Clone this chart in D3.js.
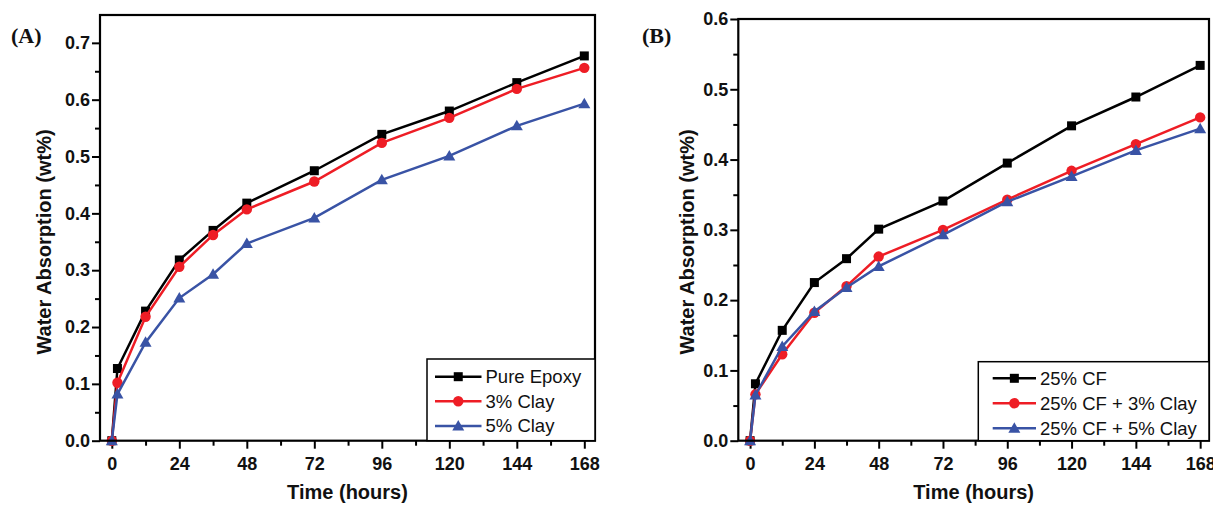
<!DOCTYPE html>
<html>
<head>
<meta charset="utf-8">
<script src="https://cdn.jsdelivr.net/npm/d3@7"></script>
<style>
  body { margin: 0; background: #fff; }
  svg { display: block; }
</style>
</head>
<body>
<div id="chart"></div>
<script>
// time points (hours)
let hours = [0, 2, 12, 24, 36, 48, 72, 96, 120, 144, 168]

// panel A
let pureEpoxy = [0, 0.127, 0.228, 0.318, 0.370, 0.418, 0.475, 0.539, 0.580, 0.630, 0.677]
let clay3 = [0, 0.102, 0.218, 0.306, 0.362, 0.407, 0.456, 0.524, 0.568, 0.619, 0.656]
let clay5 = [0, 0.082, 0.173, 0.251, 0.293, 0.347, 0.392, 0.459, 0.501, 0.554, 0.593]

// panel B
let cf25 = [0, 0.081, 0.157, 0.225, 0.259, 0.301, 0.341, 0.395, 0.448, 0.489, 0.534]
let cf25clay3 = [0, 0.066, 0.123, 0.182, 0.220, 0.262, 0.300, 0.343, 0.384, 0.422, 0.460]
let cf25clay5 = [0, 0.065, 0.134, 0.184, 0.218, 0.248, 0.293, 0.340, 0.376, 0.413, 0.444]

let xTicks = [0, 24, 48, 72, 96, 120, 144, 168]
let xMinor = [12, 36, 60, 84, 108, 132, 156]
let namesA = ['Pure Epoxy', '3% Clay', '5% Clay']
let namesB = ['25% CF', '25% CF + 3% Clay', '25% CF + 5% Clay']

let colors = ['#000000', '#ee1d25', '#3953a5']
let shapes = ['square', 'circle', 'triangle']

let svg = d3.select('#chart').append('svg')
  .attr('width', 1213)
  .attr('height', 511)

const drawMarker = function(sel, shape, color) {
  if (shape === 'square') {
    sel.append('rect').attr('x', -4.5).attr('y', -4.5).attr('width', 9).attr('height', 9).attr('fill', color)
  } else if (shape === 'circle') {
    sel.append('circle').attr('r', 5.2).attr('fill', color)
  } else {
    sel.append('path').attr('d', 'M0,-6L6,4.5L-6,4.5Z').attr('fill', color)
  }
}

const drawPanel = function(p) {
  let x = d3.scaleLinear().domain(p.xDomain).range([p.left, p.right])
  let y = d3.scaleLinear().domain(p.yDomain).range([p.bottom, p.top])
  let g = svg.append('g')

  // x axis
  g.append('g')
    .attr('transform', 'translate(0,' + p.bottom + ')')
    .call(d3.axisBottom(x).tickValues(xTicks).tickSize(8).tickPadding(9).tickFormat(d3.format('d')))
  g.append('g')
    .attr('transform', 'translate(0,' + p.bottom + ')')
    .call(d3.axisBottom(x).tickValues(xMinor).tickSize(5).tickFormat(''))

  // y axis
  g.append('g')
    .attr('transform', 'translate(' + p.left + ',0)')
    .call(d3.axisLeft(y).tickValues(p.yTicks).tickSize(8).tickPadding(2).tickFormat(d3.format('.1f')))
  g.append('g')
    .attr('transform', 'translate(' + p.left + ',0)')
    .call(d3.axisLeft(y).tickValues(p.yMinor).tickSize(5).tickFormat(''))

  g.selectAll('.domain').remove()
  g.selectAll('.tick line').attr('stroke', '#000').attr('stroke-width', 2)
  g.selectAll('.tick text')
    .attr('font-family', 'Liberation Sans, Arial, sans-serif')
    .attr('font-size', '18px')
    .attr('font-weight', 'bold')
    .attr('fill', '#111')

  // series
  p.series.forEach(function(vals, k) {
    let pts = hours.map(function(h, i) { return [h, vals[i]] })
    let line = d3.line().x(d => x(d[0])).y(d => y(d[1]))
    g.append('path')
      .attr('d', line(pts))
      .attr('fill', 'none')
      .attr('stroke', colors[k])
      .attr('stroke-width', 2.5)
    pts.forEach(function(d) {
      let m = g.append('g').attr('transform', 'translate(' + x(d[0]) + ',' + y(d[1]) + ')')
      drawMarker(m, shapes[k], colors[k])
    })
  })

  // frame
  g.append('rect')
    .attr('x', p.left).attr('y', p.top)
    .attr('width', p.right - p.left).attr('height', p.bottom - p.top)
    .attr('fill', 'none').attr('stroke', '#000').attr('stroke-width', 2.2)

  // legend
  let L = p.legend
  let lg = g.append('g')
  lg.append('rect')
    .attr('x', L.x).attr('y', L.y)
    .attr('width', p.right - L.x).attr('height', p.bottom - L.y)
    .attr('fill', '#fff').attr('stroke', '#000').attr('stroke-width', 1.5)
  p.names.forEach(function(name, k) {
    let ly = L.y + L.first + k * L.step
    let lx = L.x + L.pad
    lg.append('line')
      .attr('x1', lx).attr('x2', lx + L.len).attr('y1', ly).attr('y2', ly)
      .attr('stroke', colors[k]).attr('stroke-width', 2.5)
    let m = lg.append('g').attr('transform', 'translate(' + (lx + L.len / 2) + ',' + ly + ')')
    drawMarker(m, shapes[k], colors[k])
    lg.append('text')
      .attr('x', lx + L.len + 4).attr('y', ly)
      .attr('dy', '0.35em')
      .attr('font-family', 'Liberation Sans, Arial, sans-serif')
      .attr('font-size', '18.5px')
      .attr('fill', '#111')
      .text(name)
  })

  // axis titles
  g.append('text')
    .attr('x', (p.left + p.right) / 2).attr('y', 499)
    .attr('text-anchor', 'middle')
    .attr('font-family', 'Liberation Sans, Arial, sans-serif')
    .attr('font-size', '20px').attr('font-weight', 'bold')
    .attr('fill', '#111')
    .text('Time (hours)')
  g.append('text')
    .attr('transform', 'translate(' + p.yTitleX + ',242) rotate(-90)')
    .attr('text-anchor', 'middle')
    .attr('dy', '0.35em')
    .attr('font-family', 'Liberation Sans, Arial, sans-serif')
    .attr('font-size', '20px').attr('font-weight', 'bold')
    .attr('fill', '#111')
    .text('Water Absorption (wt%)')

  // panel label
  g.append('text')
    .attr('x', p.labelX).attr('y', 43)
    .attr('font-family', 'Liberation Serif, Times New Roman, serif')
    .attr('font-size', '22px').attr('font-weight', 'bold')
    .attr('fill', '#111')
    .text(p.label)
}

drawPanel({
  left: 100, right: 595, top: 15, bottom: 440.7,
  xDomain: [-4.2, 171.8], yDomain: [0, 0.749],
  yTicks: [0, 0.1, 0.2, 0.3, 0.4, 0.5, 0.6, 0.7],
  yMinor: [0.05, 0.15, 0.25, 0.35, 0.45, 0.55, 0.65],
  series: [pureEpoxy, clay3, clay5],
  names: namesA,
  legend: {x: 427, y: 359, first: 17.7, step: 24.6, pad: 8, len: 46.5},
  yTitleX: 44, labelX: 11, label: '(A)'
})

drawPanel({
  left: 738.3, right: 1209, top: 19, bottom: 440.7,
  xDomain: [-4.4, 171.3], yDomain: [0, 0.6],
  yTicks: [0, 0.1, 0.2, 0.3, 0.4, 0.5, 0.6],
  yMinor: [0.05, 0.15, 0.25, 0.35, 0.45, 0.55],
  series: [cf25, cf25clay3, cf25clay5],
  names: namesB,
  legend: {x: 978.3, y: 361.7, first: 16.6, step: 25, pad: 14.4, len: 43.3},
  yTitleX: 687, labelX: 642, label: '(B)'
})
</script>
</body>
</html>
